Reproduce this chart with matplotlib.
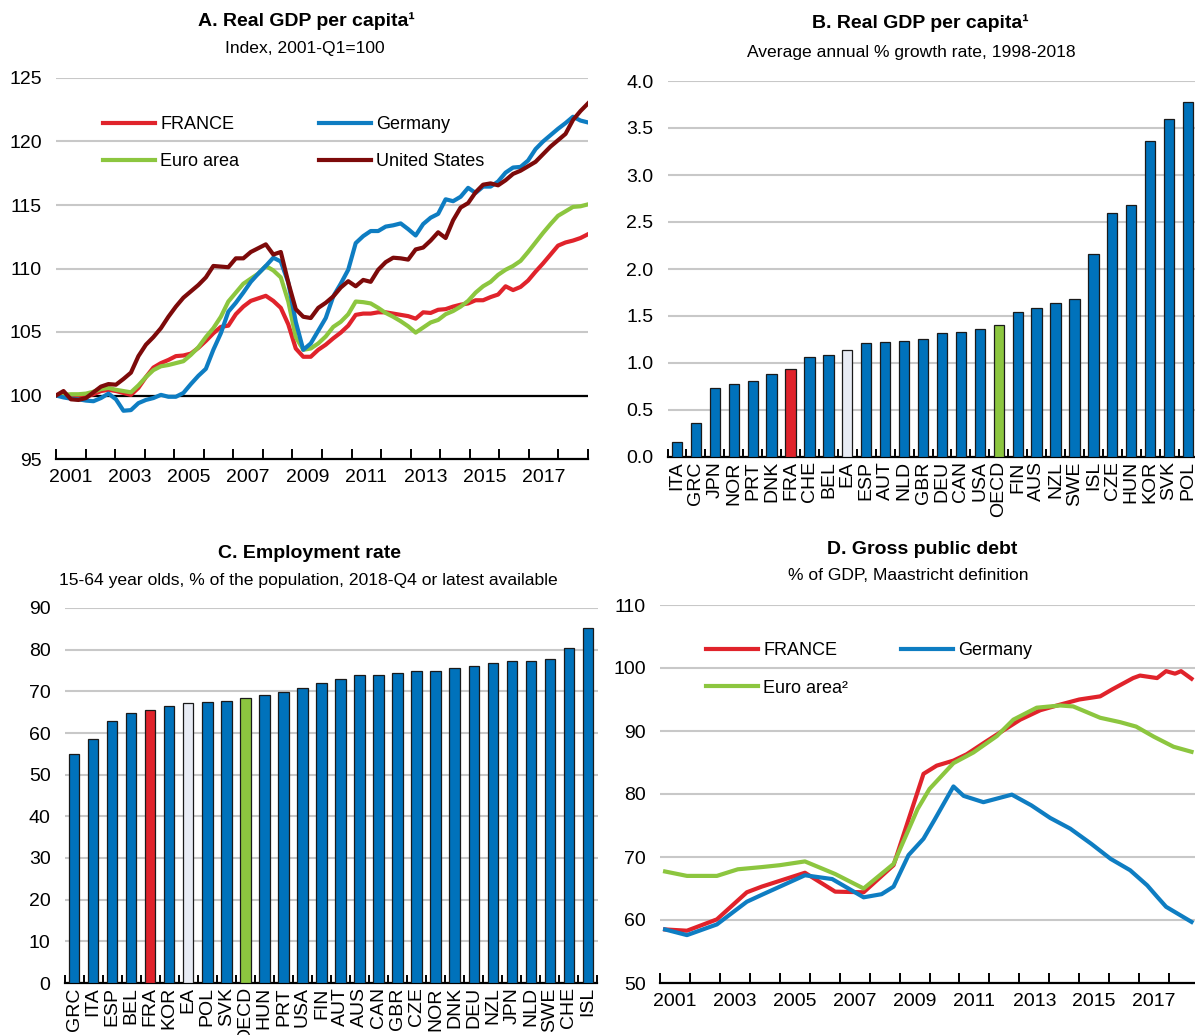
import numpy as np
import matplotlib
matplotlib.use("Agg")
import matplotlib.pyplot as plt
from matplotlib.ticker import FixedLocator, NullFormatter, FixedFormatter

plt.rcParams['font.family'] = ['Liberation Sans', 'DejaVu Sans']

# ---------------- Data ----------------
# Panel A: Real GDP per capita, index 2001-Q1=100, quarterly 2001Q1-2018Q4
a_france = [100.0, 100.05, 100.0, 99.87, 99.9, 100.1, 100.35, 100.45, 100.35, 100.2, 100.05, 100.6,
            101.45, 102.2, 102.55, 102.8, 103.1, 103.15, 103.3, 103.75, 104.3, 104.9, 105.4, 105.5,
            106.4, 107.0, 107.45, 107.65, 107.85, 107.45, 106.9, 105.6, 103.7, 103.05, 103.05, 103.6,
            104.0, 104.5, 104.95, 105.5, 106.35, 106.45, 106.45, 106.55, 106.55, 106.45, 106.35, 106.25,
            106.05, 106.55, 106.5, 106.75, 106.8, 107.0, 107.15, 107.25, 107.5, 107.5, 107.75, 107.95,
            108.6, 108.3, 108.55, 109.05, 109.75, 110.4, 111.1, 111.8, 112.05, 112.2, 112.4, 112.7]
a_germany = [100.0, 99.85, 99.75, 99.7, 99.6, 99.55, 99.8, 100.15, 99.7, 98.8, 98.85, 99.4,
             99.65, 99.8, 100.05, 99.9, 99.9, 100.2, 100.9, 101.55, 102.1, 103.6, 104.9, 106.6,
             107.3, 108.1, 108.95, 109.6, 110.2, 110.85, 110.55, 108.9, 105.8, 103.6, 104.1, 105.1,
             106.1, 107.8, 108.8, 109.9, 112.0, 112.55, 112.95, 112.95, 113.3, 113.4, 113.55, 113.1,
             112.6, 113.5, 114.0, 114.3, 115.45, 115.3, 115.65, 116.35, 115.95, 116.45, 116.45, 116.85,
             117.55, 117.95, 118.0, 118.5, 119.4, 120.0, 120.5, 121.0, 121.45, 121.95, 121.65, 121.5]
a_euro = [100.0, 100.05, 100.1, 100.1, 100.15, 100.3, 100.5, 100.6, 100.45, 100.35, 100.25, 100.8,
          101.45, 102.0, 102.3, 102.4, 102.55, 102.7, 103.2, 103.8, 104.6, 105.3, 106.2, 107.4,
          108.1, 108.8, 109.2, 109.6, 110.2, 109.85, 109.3, 107.4, 104.6, 103.6, 103.7, 104.1,
          104.65, 105.4, 105.8, 106.4, 107.4, 107.35, 107.25, 106.9, 106.5, 106.2, 105.85, 105.45,
          104.95, 105.35, 105.75, 105.95, 106.4, 106.65, 107.0, 107.45, 108.1, 108.6, 108.95, 109.5,
          109.9, 110.2, 110.6, 111.3, 112.05, 112.8, 113.5, 114.15, 114.5, 114.85, 114.9, 115.05]
a_us = [100.0, 100.35, 99.7, 99.65, 99.8, 100.25, 100.7, 100.9, 100.85, 101.3, 101.8, 103.1,
        104.0, 104.6, 105.3, 106.2, 107.0, 107.7, 108.2, 108.7, 109.3, 110.2, 110.15, 110.1,
        110.8, 110.8, 111.3, 111.6, 111.9, 111.1, 111.3, 108.9, 106.8, 106.2, 106.1, 106.9,
        107.3, 107.8, 108.5, 109.0, 108.6, 109.1, 108.95, 109.9, 110.5, 110.85, 110.8, 110.7,
        111.5, 111.65, 112.2, 112.85, 112.4, 113.8, 114.8, 115.15, 116.0, 116.6, 116.7, 116.55,
        116.95, 117.45, 117.7, 118.05, 118.4, 119.0, 119.6, 120.1, 120.6, 121.7, 122.4, 123.0]
a_first_year, a_last_year = 2001, 2019

# Panel B: Real GDP per capita, average annual % growth 1998-2018
b_countries = ['ITA', 'GRC', 'JPN', 'NOR', 'PRT', 'DNK', 'FRA', 'CHE', 'BEL', 'EA', 'ESP', 'AUT', 'NLD', 'GBR',
               'DEU', 'CAN', 'USA', 'OECD', 'FIN', 'AUS', 'NZL', 'SWE', 'ISL', 'CZE', 'HUN', 'KOR', 'SVK', 'POL']
b_values = [0.16, 0.36, 0.73, 0.78, 0.81, 0.88, 0.94, 1.065, 1.09, 1.14, 1.215, 1.22, 1.23, 1.26,
            1.32, 1.325, 1.36, 1.40, 1.54, 1.58, 1.64, 1.68, 2.155, 2.60, 2.68, 3.36, 3.60, 3.78]

# Panel C: Employment rate, 15-64, 2018-Q4
c_countries = ['GRC', 'ITA', 'ESP', 'BEL', 'FRA', 'KOR', 'EA', 'POL', 'SVK', 'OECD', 'HUN', 'PRT', 'USA', 'FIN',
               'AUT', 'AUS', 'CAN', 'GBR', 'CZE', 'NOR', 'DNK', 'DEU', 'NZL', 'JPN', 'NLD', 'SWE', 'CHE', 'ISL']
c_values = [55.0, 58.5, 62.9, 64.9, 65.5, 66.6, 67.3, 67.5, 67.8, 68.3, 69.1, 69.8, 70.9, 71.9,
            73.0, 73.9, 74.0, 74.4, 74.8, 75.0, 75.5, 76.0, 76.8, 77.2, 77.3, 77.8, 80.3, 85.2]

# Panel D: Gross public debt, % of GDP
d_fra_years = [2001.17, 2001.9, 2002.9, 2003.9, 2004.4, 2005.84, 2006.85, 2007.8, 2008.8, 2009.8, 2010.24,
               2010.8, 2011.24, 2011.91, 2012.6, 2013.03, 2013.7, 2014.37, 2015.0, 2015.7, 2016.1, 2016.8,
               2017.03, 2017.6, 2017.9, 2018.2, 2018.4, 2018.75]
d_fra = [58.5, 58.3, 60.1, 64.4, 65.3, 67.5, 64.5, 64.4, 68.7, 83.2, 84.5, 85.3, 86.3, 88.4, 90.5, 91.8,
         93.3, 94.2, 95.0, 95.5, 96.6, 98.4, 98.8, 98.4, 99.5, 99.1, 99.5, 98.3]
d_deu_years = [2001.17, 2001.9, 2002.9, 2003.9, 2004.4, 2005.84, 2006.75, 2007.8, 2008.4, 2008.8, 2009.3,
               2009.8, 2010.18, 2010.8, 2011.14, 2011.8, 2012.75, 2013.4, 2014.03, 2014.7, 2015.4, 2016.05,
               2016.7, 2017.27, 2017.6, 2017.9, 2018.75]
d_deu = [58.5, 57.6, 59.3, 62.9, 64.0, 67.1, 66.5, 63.6, 64.1, 65.3, 70.3, 72.9, 76.0, 81.2, 79.7, 78.7,
         79.9, 78.2, 76.2, 74.5, 72.1, 69.7, 67.9, 65.5, 63.7, 62.1, 59.7]
d_ea_years = [2001.17, 2001.9, 2002.9, 2003.6, 2004.4, 2005.0, 2005.84, 2006.85, 2007.8, 2008.8, 2009.6,
              2010.0, 2010.8, 2011.47, 2012.25, 2012.8, 2013.58, 2014.37, 2014.8, 2015.7, 2016.37, 2016.9,
              2017.49, 2018.15, 2018.75]
d_ea = [67.7, 67.0, 67.0, 68.05, 68.4, 68.7, 69.3, 67.3, 65.0, 68.9, 77.6, 80.8, 84.9, 86.6, 89.2, 91.8,
        93.7, 94.05, 93.9, 92.1, 91.4, 90.7, 89.1, 87.5, 86.7]

# ---------------- Styles ----------------
RED = '#E0232B'
BLUE = '#0E7DC2'
GREEN = '#8CC63F'
DARKRED = '#7D0A0A'
BAR_BLUE = '#0072BB'
EA_LIGHT = '#E8ECF5'
GRID = '#C8C8C8'
TICK_FS = 14
LEG_FS = 13

W, H = 1195, 1035
fig = plt.figure(figsize=(W / 100, H / 100), dpi=100)


def px_axes(l, r, t, b):
    return fig.add_axes([l / W, 1 - b / H, (r - l) / W, (b - t) / H])


def style_common(ax):
    for s in ['left', 'right', 'top']:
        ax.spines[s].set_visible(False)
    ax.spines['bottom'].set_color('black')
    ax.spines['bottom'].set_linewidth(1.6)
    ax.tick_params(axis='y', length=0, labelsize=TICK_FS, pad=10)
    ax.yaxis.grid(True, color=GRID, linewidth=1.5)
    ax.set_axisbelow(True)


def year_axis(ax, first, last):
    ax.set_xlim(first, last)
    ax.xaxis.set_major_locator(FixedLocator(np.arange(first, last + 1)))
    ax.xaxis.set_major_formatter(NullFormatter())
    ax.xaxis.set_minor_locator(FixedLocator(np.arange(first, last, 2) + 0.5))
    ax.xaxis.set_minor_formatter(FixedFormatter([str(y) for y in range(first, last, 2)]))
    ax.tick_params(axis='x', which='major', direction='in', length=7, width=1.4, color='black')
    ax.tick_params(axis='x', which='minor', length=0, labelsize=TICK_FS, pad=7)


def bar_axis(ax, labels):
    n = len(labels)
    ax.set_xlim(-0.5, n - 0.5)
    ax.set_xticks(np.arange(n))
    ax.set_xticklabels(labels, rotation=90, fontsize=TICK_FS)
    ax.tick_params(axis='x', which='major', length=0, pad=3)
    ax.xaxis.set_minor_locator(FixedLocator(np.arange(n + 1) - 0.5))
    ax.tick_params(axis='x', which='minor', direction='in', length=6, width=1.4, color='black')


def bar_colors(labels):
    cols = []
    for c in labels:
        if c == 'FRA':
            cols.append(RED)
        elif c == 'EA':
            cols.append(EA_LIGHT)
        elif c == 'OECD':
            cols.append(GREEN)
        else:
            cols.append(BAR_BLUE)
    return cols


# ---------------- Panel A ----------------
axA = px_axes(56, 588, 78, 459)
style_common(axA)
ax_x = np.linspace(a_first_year, a_last_year, len(a_france))
lw = 3.0
axA.plot(ax_x, a_france, color=RED, lw=lw, label='FRANCE', zorder=3)
axA.plot(ax_x, a_euro, color=GREEN, lw=lw, label='Euro area', zorder=3)
axA.plot(ax_x, a_germany, color=BLUE, lw=lw, label='Germany', zorder=3)
axA.plot(ax_x, a_us, color=DARKRED, lw=lw, label='United States', zorder=4)
axA.axhline(100, color='black', lw=1.6, zorder=2)
axA.set_ylim(95, 125)
axA.set_yticks([95, 100, 105, 110, 115, 120, 125])
year_axis(axA, 2001, 2019)
axA.legend(loc='upper left', bbox_to_anchor=(103 / W, 1 - 116 / H), bbox_transform=fig.transFigure,
           ncol=2, frameon=False, fontsize=LEG_FS, handlelength=2.9, handletextpad=0.28,
           columnspacing=4.4, labelspacing=1.12, borderpad=0, borderaxespad=0)

# ---------------- Panel B ----------------
axB = px_axes(667.5, 1197.5, 81, 457)
style_common(axB)
xb = np.arange(len(b_countries))
axB.bar(xb, b_values, width=0.54, color=bar_colors(b_countries), edgecolor='#1a1a1a', linewidth=0.9, zorder=3)
axB.set_ylim(0, 4.0)
axB.set_yticks(np.arange(0, 4.01, 0.5))
axB.set_yticklabels([f'{v:.1f}' for v in np.arange(0, 4.01, 0.5)])
bar_axis(axB, b_countries)

# ---------------- Panel C ----------------
axC = px_axes(64.5, 597.5, 608, 983)
style_common(axC)
xc = np.arange(len(c_countries))
axC.bar(xc, c_values, width=0.55, color=bar_colors(c_countries), edgecolor='#1a1a1a', linewidth=0.9, zorder=3)
axC.set_ylim(0, 90)
axC.set_yticks(np.arange(0, 91, 10))
bar_axis(axC, c_countries)

# ---------------- Panel D ----------------
axD = px_axes(660, 1199, 605, 983)
style_common(axD)
axD.plot(d_fra_years, d_fra, color=RED, lw=lw, label='FRANCE', zorder=3)
axD.plot(d_ea_years, d_ea, color=GREEN, lw=lw, label='Euro area²', zorder=3)
axD.plot(d_deu_years, d_deu, color=BLUE, lw=lw, label='Germany', zorder=3)
axD.set_ylim(50, 110)
axD.set_yticks(np.arange(50, 111, 10))
year_axis(axD, 2001, 2019)
axD.legend(loc='upper left', bbox_to_anchor=(706 / W, 1 - 642 / H), bbox_transform=fig.transFigure,
           ncol=2, frameon=False, fontsize=LEG_FS, handlelength=2.9, handletextpad=0.28,
           columnspacing=2.9, labelspacing=1.15, borderpad=0, borderaxespad=0)

# ---------------- Titles ----------------
TITLE_FS = 14
SUB_FS = 12.6
titles = [
    (306, 21, 'A. Real GDP per capita¹', 'Index, 2001-Q1=100', 305, 48),
    (920, 23, 'B. Real GDP per capita¹', 'Average annual % growth rate, 1998-2018', 911, 53),
    (309, 553, 'C. Employment rate', '15-64 year olds, % of the population, 2018-Q4 or latest available', 308, 580),
    (922, 549, 'D. Gross public debt', '% of GDP, Maastricht definition', 908, 576),
]
for tx, ty, t, sub, sx, sy in titles:
    fig.text(tx / W, 1 - ty / H, t, ha='center', va='center', fontsize=TITLE_FS, fontweight='bold')
    fig.text(sx / W, 1 - sy / H, sub, ha='center', va='center', fontsize=SUB_FS)

fig.savefig('out.png', dpi=100, facecolor='white')
